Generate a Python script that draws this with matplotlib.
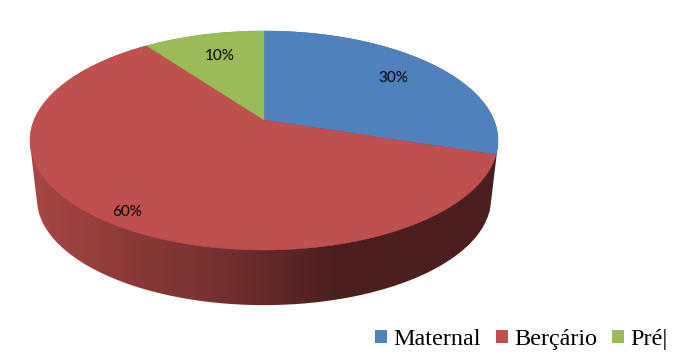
import numpy as np
import matplotlib
matplotlib.use("Agg")
import matplotlib.pyplot as plt
from matplotlib.patches import Patch, Polygon

categories = ["Maternal", "Berçário", "Pré|"]
values = [30, 60, 10]
colors = ["#4F81BD", "#C0504D", "#9BBB59"]

# where the percent labels sit, in picture pixels
label_pos = [(393, 77.5), (127, 212.5), (220, 56.5)]

# projection of the tilted disc, in picture pixels
CX, TOP_CY, BOTTOM_CY = 264, 120, 179
WIDE, DEEP, PERSP = 229.9, 105.7, 0.187
BOTTOM_SCALE = 0.97

# wall shading against screen x
SHADE_X = [37, 120, 200, 340, 500]
SHADE_K = [0.87, 0.74, 0.64, 0.39, 0.39]


def project(theta, cy, scale=1.0):
    # theta runs clockwise from the top of the disc
    x, y = np.sin(theta), np.cos(theta)
    d = 1 + PERSP * y
    return CX + scale * WIDE * x / d, cy - scale * DEEP * y / d


def hull(points):
    # monotone chain, the wall silhouette needs the straight side tangents
    pts = sorted(map(tuple, points))

    def half(seq):
        out = []
        for p in seq:
            while len(out) >= 2 and ((out[-1][0] - out[-2][0]) * (p[1] - out[-2][1])
                                     - (out[-1][1] - out[-2][1]) * (p[0] - out[-2][0])) <= 0:
                out.pop()
            out.append(p)
        return out[:-1]

    return np.array(half(pts) + half(pts[::-1]))


def main():
    fig = plt.figure(figsize=(6.82, 3.62), dpi=100)
    ax = fig.add_axes([0, 0, 1, 1])

    total = sum(values)
    edges = np.cumsum([0] + values) / total * 2 * np.pi

    # side wall: a horizontal gradient clipped to each slice's outline
    xs = np.arange(0, 683)
    ramp = np.interp(xs, SHADE_X, SHADE_K)[None, :, None]
    for i in (2, 0, 1):
        th = np.linspace(edges[i], edges[i + 1], 300)
        xt, yt = project(th, TOP_CY)
        xb, yb = project(th, BOTTOM_CY, BOTTOM_SCALE)
        outline = Polygon(hull(np.c_[np.r_[xt, xb], np.r_[yt, yb]]), closed=True,
                          transform=ax.transData, fc="none", ec="none")
        ax.add_patch(outline)
        base = np.array(matplotlib.colors.to_rgb(colors[i]))[None, None, :]
        im = ax.imshow(ramp * base, extent=(0, 682, 362, 0), aspect="auto",
                       interpolation="bilinear", zorder=2)
        im.set_clip_path(outline)
    ax.set_xlim(0, 682)
    ax.set_ylim(362, 0)
    ax.axis("off")

    # top face
    for i, color in enumerate(colors):
        th = np.linspace(edges[i], edges[i + 1], 200)
        x, y = project(th, TOP_CY)
        ax.fill(np.r_[CX, x], np.r_[TOP_CY, y], color=color, lw=0.3, zorder=3)

    for v, (px, py) in zip(values, label_pos):
        ax.text(px, py, f"{round(v / total * 100)}%", ha="center", va="center",
                fontsize=11, family="Lato", color="black", zorder=4)

    handles = [Patch(facecolor=c, edgecolor="none") for c in colors]
    ax.legend(handles, categories, ncol=3, frameon=False, loc="lower right",
              bbox_to_anchor=(0.9785, 0.033), prop={"family": "Liberation Serif", "size": 17.4},
              handlelength=0.5, handleheight=0.5, handletextpad=0.25,
              columnspacing=0.62, borderpad=0, borderaxespad=0)

    fig.savefig("out.png", dpi=100)


if __name__ == "__main__":
    main()
